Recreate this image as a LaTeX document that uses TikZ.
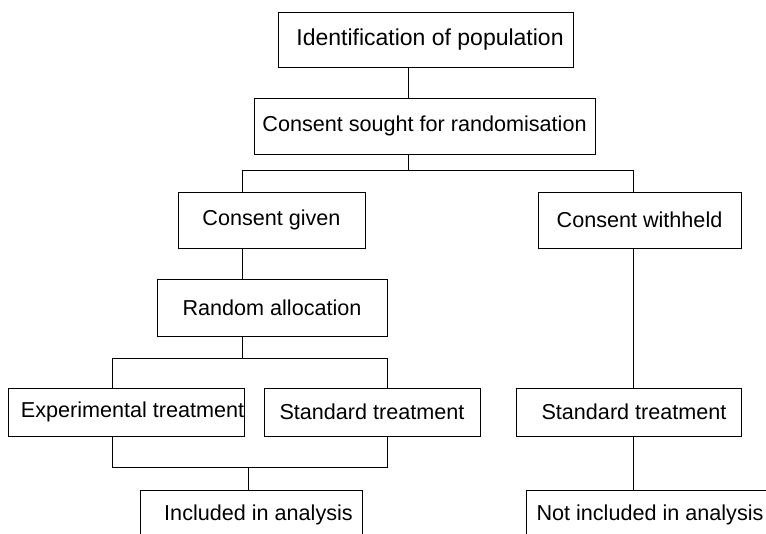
\documentclass[tikz,border=0pt]{standalone}
\usepackage{fontspec}
\setmainfont{Liberation Sans}

\begin{document}
\begin{tikzpicture}[x=1pt,y=-1pt,line width=1pt,
  box/.style={draw,inner sep=0pt,font=\fontsize{21.6}{26}\selectfont}]
\useasboundingbox (0,0) rectangle (766,533);
\clip (0,0) rectangle (766,533);
% boxes
\node[box,minimum width=295pt,minimum height=55pt,font=\fontsize{23}{27}\selectfont] (ident) at (425.5,39.5) {\hspace*{9pt}Identification of population};
\node[box,minimum width=341pt,minimum height=56pt] (sought) at (424.5,126) {Consent sought for randomisation};
\node[box,minimum width=187pt,minimum height=56pt] (given) at (271.5,220) {Consent given};
\node[box,minimum width=203pt,minimum height=56pt] (withheld) at (639.5,220) {Consent withheld};
\node[box,minimum width=230pt,minimum height=57pt] (random) at (272,307.5) {Random allocation};
\node[box,minimum width=235pt,minimum height=48pt] (exper) at (126.5,412) {\hspace*{12pt}Experimental treatment};
\node[box,minimum width=216pt,minimum height=48pt] (std) at (372,412) {Standard treatment};
\node[box,minimum width=225pt,minimum height=48pt] (stdr) at (628.5,412) {\hspace*{11pt}Standard treatment};
\node[box,minimum width=222pt,minimum height=50pt] (incl) at (251,515) {\hspace*{15pt}Included in analysis};
\node[box,minimum width=248pt,minimum height=50pt] (notincl) at (650,515) {Not included in analysis};
% junctions
\coordinate (j1) at (408,170);
\coordinate (j1l) at (242,170);
\coordinate (j1r) at (633,170);
\coordinate (j2) at (242,358);
\coordinate (j2l) at (112,358);
\coordinate (j2r) at (387,358);
\coordinate (j3) at (248,467);
\coordinate (j3l) at (112,467);
\coordinate (j3r) at (387,467);
% connectors
\draw (ident.south -| j1) -- (sought.north -| j1);
\draw (sought.south -| j1) -- (j1);
\draw (j1l) -- (j1r);
\draw (j1l) -- (given.north -| j1l);
\draw (j1r) -- (withheld.north -| j1r);
\draw (given.south -| j1l) -- (random.north -| j1l);
\draw (random.south -| j2) -- (j2);
\draw (j2l) -- (j2r);
\draw (j2l) -- (exper.north -| j2l);
\draw (j2r) -- (std.north -| j2r);
\draw (exper.south -| j3l) -- (j3l) -- (j3r) -- (std.south -| j3r);
\draw (j3) -- (incl.north -| j3);
\draw (withheld.south -| j1r) -- (stdr.north -| j1r);
\draw (stdr.south -| j1r) -- (notincl.north -| j1r);
\end{tikzpicture}
\end{document}
